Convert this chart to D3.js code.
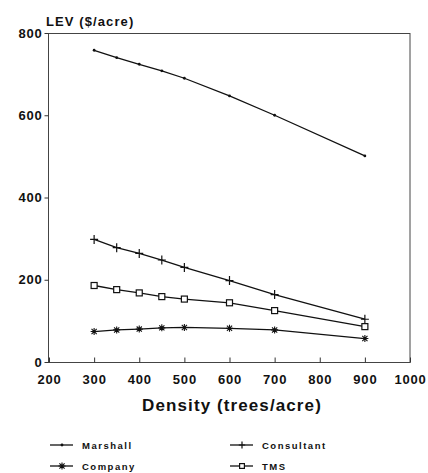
<html>
<head>
    <script src="https://d3js.org/d3.v7.min.js"></script>
</head>
<body style="margin:0;background:#fff">
    <svg id="lev_chart" width="428" height="473"></svg>
</body>
<style>
    text{font-family: 'Liberation Sans', Arial, sans-serif; font-weight: bold; fill: #111}
</style>
<script>

    // values
    const density = [300, 350, 400, 450, 500, 600, 700, 900]
    const marshall = [758, 740, 724, 708, 690, 647, 600, 501]
    const consultant = [298, 278, 264, 248, 230, 198, 164, 104]
    const tms = [186, 176, 168, 159, 153, 144, 125, 86]
    const company = [74, 78, 80, 83, 84, 82, 78, 57]

    const xTicks = [200, 300, 400, 500, 600, 700, 800, 900, 1000]
    const yTicks = [0, 200, 400, 600, 800]

    const seriesNames = ['Marshall', 'Company', 'Consultant', 'TMS']
    const seriesMarkers = ['dot', 'star', 'plus', 'square']

    let svg = d3.select('svg#lev_chart')

    const margin = {top:33, right:18, bottom:111, left:49}
    const plotW = 410 - margin.left
    const plotH = 362 - margin.top

    let Xscaler = d3.scaleLinear().domain([200, 1000]).range([margin.left, margin.left + plotW])
    let Yscaler = d3.scaleLinear().domain([0, 800]).range([margin.top + plotH, margin.top])

    // frame
    svg.append('rect')
       .attr('x', 48.5).attr('y', margin.top + 0.5)
       .attr('width', 410 - 48.5).attr('height', plotH)
       .attr('fill', 'none').attr('stroke', '#444').attr('stroke-width', 1)

    let xaxis = svg.append('g')
        .attr('transform', `translate(0,${margin.top + plotH + 0.5})`)
        .call(d3.axisBottom(Xscaler).tickValues(xTicks).tickSize(-5).tickFormat(d3.format('d')))
    xaxis.select('path.domain').remove()
    xaxis.selectAll('line').attr('stroke', '#333')
    xaxis.selectAll('text')
         .attr('y', 12)
         .attr('font-size', '13px')
         .attr('letter-spacing', '0.8px')
         .attr('fill', '#111')

    let yaxis = svg.append('g')
        .attr('transform', `translate(48.5,0)`)
        .call(d3.axisLeft(Yscaler).tickValues(yTicks).tickSize(4).tickPadding(2))
    yaxis.select('path.domain').remove()
    yaxis.selectAll('line').attr('stroke', '#333')
    yaxis.selectAll('text')
         .attr('font-size', '13px')
         .attr('letter-spacing', '0.8px')
         .attr('fill', '#111')

    svg.append('text')
       .text('LEV ($/acre)')
       .attr('x', 46).attr('y', 26)
       .attr('font-size', '13px')
       .attr('letter-spacing', '1.1px')

    svg.append('text')
       .text('Density (trees/acre)')
       .attr('x', 232).attr('y', 411)
       .attr('text-anchor', 'middle')
       .attr('font-size', '17px')
       .attr('letter-spacing', '1.1px')

    function drawMarker(g, kind, x, y, s) {
        if (kind === 'dot') {
            g.append('circle').attr('cx', x).attr('cy', y).attr('r', 1.4).attr('fill', '#111')
        } else if (kind === 'plus') {
            g.append('path').attr('d', `M${x-4*s},${y}H${x+4*s}M${x},${y-4.5*s}V${y+4.5*s}`)
             .attr('stroke', '#111').attr('stroke-width', 1.2).attr('fill', 'none')
        } else if (kind === 'square') {
            g.append('rect').attr('x', x-3*s).attr('y', y-3*s).attr('width', 6*s).attr('height', 6*s)
             .attr('fill', '#fff').attr('stroke', '#111').attr('stroke-width', 1.2)
        } else if (kind === 'star') {
            g.append('path')
             .attr('d', `M${x-3.5*s},${y}H${x+3.5*s}M${x},${y-3.5*s}V${y+3.5*s}M${x-2.6*s},${y-2.6*s}L${x+2.6*s},${y+2.6*s}M${x-2.6*s},${y+2.6*s}L${x+2.6*s},${y-2.6*s}`)
             .attr('stroke', '#111').attr('stroke-width', 1.1).attr('fill', 'none')
            g.append('circle').attr('cx', x).attr('cy', y).attr('r', 1.1).attr('fill', '#111')
        }
    }

    const seriesValues = [marshall, company, consultant, tms]
    let line = d3.line().x(d => Xscaler(d.x)).y(d => Yscaler(d.y))

    seriesValues.forEach((vals, i) => {
        let pts = density.map((x, j) => ({x: x, y: vals[j]}))
        let g = svg.append('g')
        g.append('path')
         .datum(pts)
         .attr('d', line)
         .attr('fill', 'none')
         .attr('stroke', '#111')
         .attr('stroke-width', 1.3)
        pts.forEach(p => drawMarker(g, seriesMarkers[i], Xscaler(p.x), Yscaler(p.y), 1))
    })

    // legend, two columns
    const legX = [50, 230]
    const legY = [445, 466]
    seriesNames.forEach((name, i) => {
        let col = i < 2 ? 0 : 1
        let row = i % 2
        let g = svg.append('g')
        let x0 = legX[col], y0 = legY[row]
        g.append('line').attr('x1', x0).attr('x2', x0 + 23).attr('y1', y0).attr('y2', y0)
         .attr('stroke', '#111').attr('stroke-width', 1.3)
        drawMarker(g, seriesMarkers[i], x0 + 12, y0, seriesMarkers[i] === 'star' ? 1 : 0.8)
        g.append('text').text(name)
         .attr('x', x0 + 32).attr('y', y0 + 3.5)
         .attr('font-size', '9.5px')
         .attr('letter-spacing', '1.5px')
    })

</script>
</html>
